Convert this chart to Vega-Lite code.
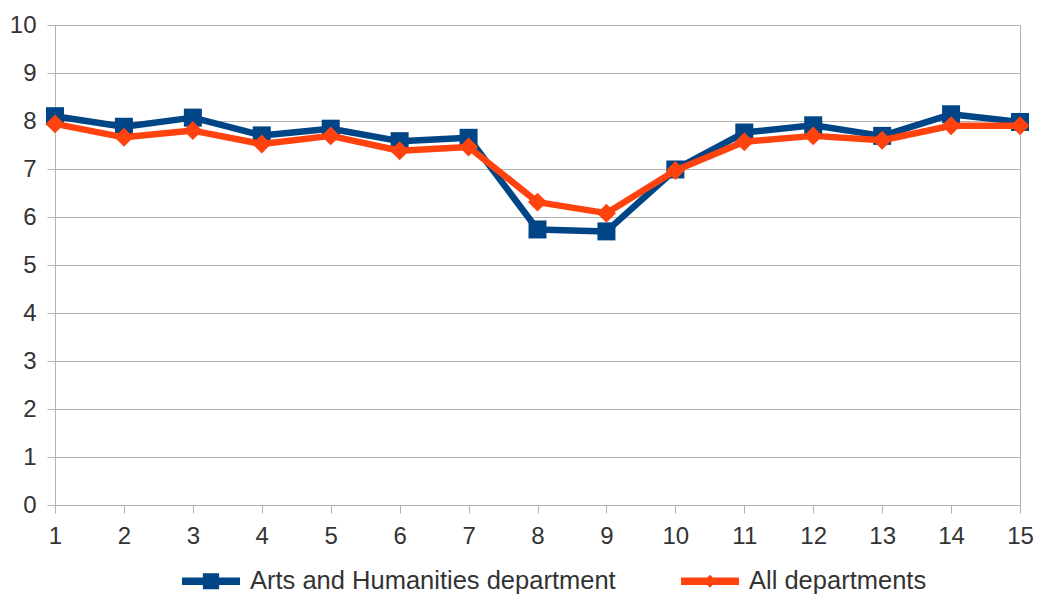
{
  "$schema": "https://vega.github.io/schema/vega-lite/v6.json",
  "width": 965,
  "height": 480,
  "autosize": {"type": "none"},
  "padding": {"left": 55, "top": 25, "right": 17, "bottom": 90},
  "background": "white",
  "config": {
    "view": {"stroke": "#b3b3b3", "strokeWidth": 1},
    "font": "Liberation Sans",
    "axis": {
      "labelFont": "Liberation Sans",
      "labelFontSize": 24,
      "labelColor": "#333333",
      "tickColor": "#b3b3b3",
      "domainColor": "#b3b3b3",
      "gridColor": "#b3b3b3",
      "tickSize": 8,
      "title": null
    }
  },
  "data": {
    "values": [
      {"x": 1, "series": "Arts and Humanities department", "value": 8.1},
      {"x": 2, "series": "Arts and Humanities department", "value": 7.88},
      {"x": 3, "series": "Arts and Humanities department", "value": 8.07},
      {"x": 4, "series": "Arts and Humanities department", "value": 7.7},
      {"x": 5, "series": "Arts and Humanities department", "value": 7.84},
      {"x": 6, "series": "Arts and Humanities department", "value": 7.58},
      {"x": 7, "series": "Arts and Humanities department", "value": 7.65},
      {"x": 8, "series": "Arts and Humanities department", "value": 5.74},
      {"x": 9, "series": "Arts and Humanities department", "value": 5.7},
      {"x": 10, "series": "Arts and Humanities department", "value": 6.99},
      {"x": 11, "series": "Arts and Humanities department", "value": 7.76},
      {"x": 12, "series": "Arts and Humanities department", "value": 7.91},
      {"x": 13, "series": "Arts and Humanities department", "value": 7.69},
      {"x": 14, "series": "Arts and Humanities department", "value": 8.14},
      {"x": 15, "series": "Arts and Humanities department", "value": 7.98},
      {"x": 1, "series": "All departments", "value": 7.94},
      {"x": 2, "series": "All departments", "value": 7.66},
      {"x": 3, "series": "All departments", "value": 7.8},
      {"x": 4, "series": "All departments", "value": 7.52},
      {"x": 5, "series": "All departments", "value": 7.69},
      {"x": 6, "series": "All departments", "value": 7.38},
      {"x": 7, "series": "All departments", "value": 7.46},
      {"x": 8, "series": "All departments", "value": 6.31},
      {"x": 9, "series": "All departments", "value": 6.08},
      {"x": 10, "series": "All departments", "value": 6.97},
      {"x": 11, "series": "All departments", "value": 7.57},
      {"x": 12, "series": "All departments", "value": 7.69},
      {"x": 13, "series": "All departments", "value": 7.6},
      {"x": 14, "series": "All departments", "value": 7.9},
      {"x": 15, "series": "All departments", "value": 7.9}
    ]
  },
  "encoding": {
    "x": {
      "field": "x",
      "type": "quantitative",
      "scale": {"domain": [1, 15], "nice": false, "zero": false},
      "axis": {"values": [1,2,3,4,5,6,7,8,9,10,11,12,13,14,15], "grid": false, "labelFlush": false, "labelPadding": 11, "format": "d"}
    },
    "y": {
      "field": "value",
      "type": "quantitative",
      "scale": {"domain": [0, 10], "nice": false},
      "axis": {"values": [0,1,2,3,4,5,6,7,8,9,10], "grid": true, "labelPadding": 11, "format": "d"}
    },
    "color": {
      "field": "series",
      "type": "nominal",
      "scale": {"domain": ["Arts and Humanities department", "All departments"], "range": ["#004586", "#ff420e"]},
      "legend": {
        "title": null,
        "orient": "none",
        "legendX": 127,
        "legendY": 527,
        "direction": "horizontal",
        "labelFont": "Liberation Sans",
        "labelFontSize": 25.5,
        "labelColor": "#333333",
        "labelOffset": 10,
        "columnPadding": 65,
        "labelLimit": 600,
        "symbolSize": 3364,
        "symbolType": "M-1,-0.13H1V0.13H-1Z",
        "encode": {
          "symbols": {
            "update": {
              "shape": {"signal": "datum.value === 'All departments' ? 'M-1,-0.13H1V0.13H-1Z M0,-0.22L0.22,0L0,0.22L-0.22,0Z' : 'M-1,-0.13H1V0.13H-1Z M-0.28,-0.28H0.28V0.28H-0.28Z'"},
              "fill": {"signal": "datum.value === 'All departments' ? '#ff420e' : '#004586'"},
              "stroke": {"value": "transparent"},
              "strokeWidth": {"value": 0}
            }
          }
        }
      }
    }
  },
  "layer": [
    {
      "transform": [{"filter": "datum.series === 'Arts and Humanities department'"}],
      "mark": {"type": "line", "strokeWidth": 6.5, "strokeJoin": "round"}
    },
    {
      "transform": [{"filter": "datum.series === 'Arts and Humanities department'"}],
      "mark": {"type": "point", "shape": "square", "filled": true, "size": 324, "opacity": 1}
    },
    {
      "transform": [{"filter": "datum.series === 'All departments'"}],
      "mark": {"type": "line", "strokeWidth": 6.5, "strokeJoin": "round"}
    },
    {
      "transform": [{"filter": "datum.series === 'All departments'"}],
      "mark": {"type": "point", "shape": "diamond", "filled": true, "size": 360, "opacity": 1}
    }
  ]
}
